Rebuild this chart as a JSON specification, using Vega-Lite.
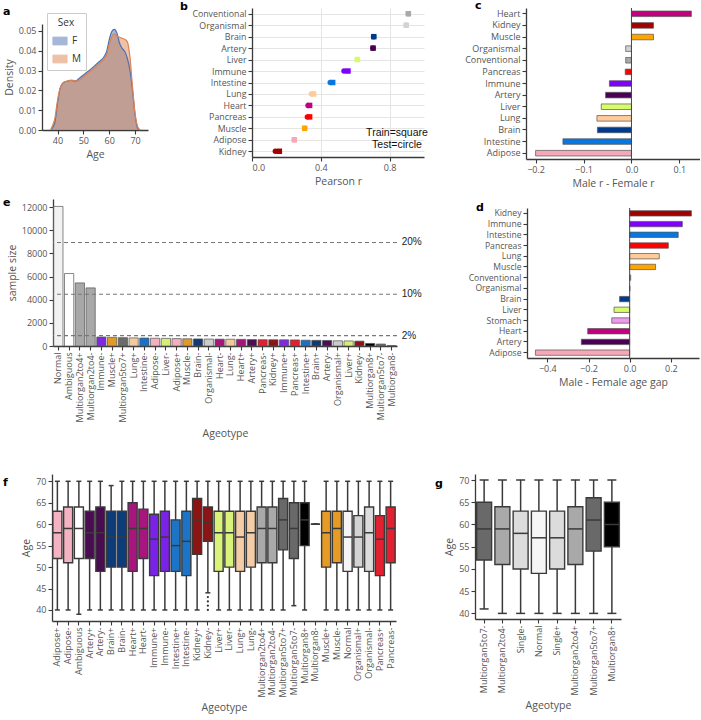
{
"$schema": "https://vega.github.io/schema/vega-lite/v6.json",
"padding": {"left": 3, "top": 0, "right": 0, "bottom": 0},
"config": {
  "font": "Open Sans",
  "view": {"stroke": null},
  "axis": {"labelFontSize": 9, "labelColor": "#555555", "titleFontSize": 10.5, "titleFontWeight": "normal", "titleColor": "#555555", "domainColor": "#3a3a3a", "tickColor": "#3a3a3a", "domainWidth": 1.3, "tickWidth": 1.1, "tickSize": 4, "grid": false, "labelPadding": 2, "titlePadding": 4, "labelOverlap": false},
  "title": {"anchor": "start", "frame": "group", "offset": 0, "fontSize": 11, "fontWeight": "bold", "color": "#000000", "font": "DejaVu Sans", "baseline": "alphabetic"}
},
"bounds": "flush",
"spacing": 0,
"resolve": {"scale": {"color": "independent", "shape": "independent"}},
"vconcat": [
 {
  "hconcat": [
   {
    "vconcat": [
     {"width": 1, "height": 16, "data": {"values": []}, "mark": "point", "encoding": {}},
     {
      "width": 106, "height": 106,
      "title": {"text": "a", "dx": -39, "dy": -3.5},
      "data": {"values": [
        {"age": 37.5, "sex": "F", "density": 0}, {"age": 38, "sex": "F", "density": 0.001}, {"age": 39, "sex": "F", "density": 0.004}, {"age": 40, "sex": "F", "density": 0.0135}, {"age": 41, "sex": "F", "density": 0.021}, {"age": 42, "sex": "F", "density": 0.0236}, {"age": 43, "sex": "F", "density": 0.0244}, {"age": 44, "sex": "F", "density": 0.0247}, {"age": 45, "sex": "F", "density": 0.025}, {"age": 46, "sex": "F", "density": 0.0249}, {"age": 47, "sex": "F", "density": 0.0247}, {"age": 48, "sex": "F", "density": 0.0256}, {"age": 50, "sex": "F", "density": 0.0278}, {"age": 52, "sex": "F", "density": 0.0298}, {"age": 54, "sex": "F", "density": 0.032}, {"age": 56, "sex": "F", "density": 0.0343}, {"age": 58, "sex": "F", "density": 0.037}, {"age": 59, "sex": "F", "density": 0.0396}, {"age": 60, "sex": "F", "density": 0.0455}, {"age": 61, "sex": "F", "density": 0.0497}, {"age": 62, "sex": "F", "density": 0.0508}, {"age": 63, "sex": "F", "density": 0.0488}, {"age": 64, "sex": "F", "density": 0.0438}, {"age": 65, "sex": "F", "density": 0.0412}, {"age": 66, "sex": "F", "density": 0.0396}, {"age": 67, "sex": "F", "density": 0.0362}, {"age": 68, "sex": "F", "density": 0.0303}, {"age": 69, "sex": "F", "density": 0.0202}, {"age": 70, "sex": "F", "density": 0.0076}, {"age": 71, "sex": "F", "density": 0.0008}, {"age": 72, "sex": "F", "density": 0},
        {"age": 37.3, "sex": "M", "density": 0}, {"age": 38, "sex": "M", "density": 0.002}, {"age": 39, "sex": "M", "density": 0.006}, {"age": 40, "sex": "M", "density": 0.015}, {"age": 41, "sex": "M", "density": 0.021}, {"age": 42, "sex": "M", "density": 0.0236}, {"age": 43, "sex": "M", "density": 0.0244}, {"age": 44, "sex": "M", "density": 0.0248}, {"age": 45, "sex": "M", "density": 0.025}, {"age": 46, "sex": "M", "density": 0.0251}, {"age": 47, "sex": "M", "density": 0.0248}, {"age": 48, "sex": "M", "density": 0.0247}, {"age": 50, "sex": "M", "density": 0.0269}, {"age": 52, "sex": "M", "density": 0.029}, {"age": 54, "sex": "M", "density": 0.0311}, {"age": 56, "sex": "M", "density": 0.0332}, {"age": 58, "sex": "M", "density": 0.0357}, {"age": 59, "sex": "M", "density": 0.0379}, {"age": 60, "sex": "M", "density": 0.043}, {"age": 61, "sex": "M", "density": 0.0471}, {"age": 62, "sex": "M", "density": 0.0485}, {"age": 63, "sex": "M", "density": 0.0475}, {"age": 64, "sex": "M", "density": 0.0468}, {"age": 65, "sex": "M", "density": 0.0463}, {"age": 66, "sex": "M", "density": 0.0458}, {"age": 67, "sex": "M", "density": 0.0445}, {"age": 68, "sex": "M", "density": 0.037}, {"age": 69, "sex": "M", "density": 0.022}, {"age": 70, "sex": "M", "density": 0.0084}, {"age": 71, "sex": "M", "density": 0.0017}, {"age": 72, "sex": "M", "density": 0}
      ]},
      "mark": {"type": "area", "fillOpacity": 0.5, "line": {"strokeWidth": 1.2}, "interpolate": "monotone"},
      "encoding": {
        "x": {"field": "age", "type": "quantitative", "scale": {"domain": [34, 75], "nice": false, "zero": false}, "axis": {"values": [40, 50, 60, 70], "title": "Age"}},
        "y": {"field": "density", "type": "quantitative", "stack": null, "scale": {"domain": [0, 0.0535], "nice": false}, "axis": {"values": [0, 0.01, 0.02, 0.03, 0.04, 0.05], "format": ".2f", "title": "Density", "labelOverlap": false}},
        "color": {"field": "sex", "type": "nominal", "scale": {"domain": ["F", "M"], "range": ["#4c72b0", "#dd8452"]}, "legend": {"orient": "top-left", "title": "Sex", "offset": 5, "fillColor": "#ffffff", "strokeColor": "#cccccc", "padding": 5, "titleAnchor": "middle", "titleFontSize": 10, "titleFontWeight": "normal", "labelFontSize": 10, "symbolType": "M-1,-0.55H1V0.55H-1Z", "symbolSize": 200, "symbolOpacity": 0.5, "symbolStrokeWidth": 1, "rowPadding": 4, "labelColor": "#333333", "titleColor": "#333333"}}
      }
     }
    ],
    "spacing": 0,
    "bounds": "flush"
   },
   {"width": 210, "height": 1, "data": {"values": []}, "mark": "point", "encoding": {}},
   {
    "width": 172, "height": 149,
    "title": {"text": "b", "dx": -72, "dy": 7.5},
    "layer": [
     {
      "data": {"values": [
        {"organ": "Conventional", "set": "Train", "r": 0.909}, {"organ": "Conventional", "set": "Test", "r": 0.909},
        {"organ": "Organismal", "set": "Train", "r": 0.897}, {"organ": "Organismal", "set": "Test", "r": 0.897},
        {"organ": "Brain", "set": "Train", "r": 0.708}, {"organ": "Brain", "set": "Test", "r": 0.707},
        {"organ": "Artery", "set": "Train", "r": 0.704}, {"organ": "Artery", "set": "Test", "r": 0.703},
        {"organ": "Liver", "set": "Train", "r": 0.613}, {"organ": "Liver", "set": "Test", "r": 0.612},
        {"organ": "Immune", "set": "Train", "r": 0.558}, {"organ": "Immune", "set": "Test", "r": 0.535},
        {"organ": "Intestine", "set": "Train", "r": 0.469}, {"organ": "Intestine", "set": "Test", "r": 0.455},
        {"organ": "Lung", "set": "Train", "r": 0.358}, {"organ": "Lung", "set": "Test", "r": 0.345},
        {"organ": "Heart", "set": "Train", "r": 0.335}, {"organ": "Heart", "set": "Test", "r": 0.326},
        {"organ": "Pancreas", "set": "Train", "r": 0.335}, {"organ": "Pancreas", "set": "Test", "r": 0.322},
        {"organ": "Muscle", "set": "Train", "r": 0.306}, {"organ": "Muscle", "set": "Test", "r": 0.306},
        {"organ": "Adipose", "set": "Train", "r": 0.246}, {"organ": "Adipose", "set": "Test", "r": 0.246},
        {"organ": "Kidney", "set": "Train", "r": 0.159}, {"organ": "Kidney", "set": "Test", "r": 0.136}
      ]},
      "mark": {"type": "point", "filled": true, "size": 30, "opacity": 1},
      "encoding": {
        "x": {"field": "r", "type": "quantitative", "scale": {"domain": [0, 1], "nice": false}, "axis": {"values": [0, 0.2, 0.4, 0.6, 0.8, 1], "format": ".1f", "title": "Pearson r", "grid": true, "gridColor": "#e5e5e5"}},
        "y": {"field": "organ", "type": "nominal", "scale": {"domain": ["Conventional", "Organismal", "Brain", "Artery", "Liver", "Immune", "Intestine", "Lung", "Heart", "Pancreas", "Muscle", "Adipose", "Kidney"]}, "axis": {"title": null, "grid": true, "gridColor": "#e5e5e5", "labelFontSize": 8.8}},
        "color": {"field": "organ", "type": "nominal", "scale": {"domain": ["Conventional", "Organismal", "Brain", "Artery", "Liver", "Immune", "Intestine", "Lung", "Heart", "Pancreas", "Muscle", "Adipose", "Kidney"], "range": ["#a9a9a9", "#d3d3d3", "#003a8c", "#4b0055", "#d7fb6a", "#7f00ff", "#0877e0", "#ffcc99", "#c2007f", "#ff0000", "#ffa500", "#f7a8b8", "#a30000"]}, "legend": null},
        "shape": {"field": "set", "type": "nominal", "scale": {"domain": ["Train", "Test"], "range": ["square", "circle"]}, "legend": null}
      }
     },
     {
      "data": {"values": [{"organ": "Muscle", "x": 0.843, "t": "Train=square"}, {"organ": "Adipose", "x": 0.843, "t": "Test=circle"}]},
      "mark": {"type": "text", "dy": 5, "fontSize": 10.5, "font": "Liberation Sans", "color": "#111111"},
      "encoding": {"x": {"field": "x", "type": "quantitative"}, "y": {"field": "organ", "type": "nominal"}, "text": {"field": "t"}}
     }
    ]
   },
   {"width": 102, "height": 1, "data": {"values": []}, "mark": "point", "encoding": {}},
   {
    "width": 174, "height": 151,
    "title": {"text": "c", "dx": -51, "dy": 7.5},
    "layer": [
     {
      "data": {"values": [
        {"organ": "Heart", "v": 0.125}, {"organ": "Kidney", "v": 0.046}, {"organ": "Muscle", "v": 0.046}, {"organ": "Organismal", "v": -0.012}, {"organ": "Conventional", "v": -0.012}, {"organ": "Pancreas", "v": -0.013}, {"organ": "Immune", "v": -0.046}, {"organ": "Artery", "v": -0.054}, {"organ": "Liver", "v": -0.063}, {"organ": "Lung", "v": -0.072}, {"organ": "Brain", "v": -0.071}, {"organ": "Intestine", "v": -0.143}, {"organ": "Adipose", "v": -0.2}
      ]},
      "mark": {"type": "bar", "stroke": "#555555", "strokeWidth": 0.7},
      "encoding": {
        "y": {"field": "organ", "type": "nominal", "sort": null, "scale": {"paddingInner": 0.52, "paddingOuter": 0.26}, "axis": {"title": null}},
        "x": {"field": "v", "type": "quantitative", "scale": {"domain": [-0.22, 0.143], "nice": false, "zero": false}, "axis": {"values": [-0.2, -0.1, 0, 0.1], "format": ".1f", "title": "Male r - Female r"}},
        "color": {"field": "organ", "type": "nominal", "scale": {"domain": ["Heart", "Kidney", "Muscle", "Organismal", "Conventional", "Pancreas", "Immune", "Artery", "Liver", "Lung", "Brain", "Intestine", "Adipose"], "range": ["#c2007f", "#a30000", "#ffa500", "#d3d3d3", "#a9a9a9", "#ff0000", "#7f00ff", "#4b0055", "#d7fb6a", "#ffcc99", "#003a8c", "#0877e0", "#f7a8b8"]}, "legend": null}
      }
     },
     {"data": {"values": [{"z": 0}]}, "mark": {"type": "rule", "color": "#444444", "strokeWidth": 1}, "encoding": {"x": {"field": "z", "type": "quantitative"}}}
    ]
   }
  ],
  "spacing": 0,
  "bounds": "flush",
  "resolve": {"scale": {"color": "independent", "shape": "independent"}}
 },
 {"width": 1, "height": 191, "data": {"values": []}, "mark": "point", "encoding": {}},
 {
  "hconcat": [
   {"width": 11, "height": 1, "data": {"values": []}, "mark": "point", "encoding": {}},
   {
    "width": 344, "height": 147,
    "title": {"text": "e", "dx": -50, "dy": 12.5},
    "layer": [
     {
      "data": {"values": [
        {"ageotype": "Normal", "organ": "Normal", "n": 12060}, {"ageotype": "Ambiguous", "organ": "Ambiguous", "n": 6260}, {"ageotype": "Multiorgan2to4+", "organ": "Multiorgan2to4", "n": 5450}, {"ageotype": "Multiorgan2to4-", "organ": "Multiorgan2to4", "n": 5020},
        {"ageotype": "Immune-", "organ": "Immune", "n": 780}, {"ageotype": "Muscle+", "organ": "Muscle", "n": 750}, {"ageotype": "Multiorgan5to7+", "organ": "Multiorgan5to7", "n": 720}, {"ageotype": "Lung+", "organ": "Lung", "n": 700}, {"ageotype": "Intestine-", "organ": "Intestine", "n": 690}, {"ageotype": "Adipose-", "organ": "Adipose", "n": 670}, {"ageotype": "Liver-", "organ": "Liver", "n": 660}, {"ageotype": "Adipose+", "organ": "Adipose", "n": 640}, {"ageotype": "Muscle-", "organ": "Muscle", "n": 625}, {"ageotype": "Brain-", "organ": "Brain", "n": 610}, {"ageotype": "Organismal-", "organ": "Organismal", "n": 600}, {"ageotype": "Heart-", "organ": "Heart", "n": 590}, {"ageotype": "Lung-", "organ": "Lung", "n": 585}, {"ageotype": "Heart+", "organ": "Heart", "n": 575}, {"ageotype": "Artery+", "organ": "Artery", "n": 555}, {"ageotype": "Pancreas-", "organ": "Pancreas", "n": 545}, {"ageotype": "Kidney+", "organ": "Kidney", "n": 540}, {"ageotype": "Immune+", "organ": "Immune", "n": 535}, {"ageotype": "Pancreas+", "organ": "Pancreas", "n": 525}, {"ageotype": "Intestine+", "organ": "Intestine", "n": 500}, {"ageotype": "Brain+", "organ": "Brain", "n": 490}, {"ageotype": "Artery-", "organ": "Artery", "n": 480}, {"ageotype": "Organismal+", "organ": "Organismal", "n": 450}, {"ageotype": "Liver+", "organ": "Liver", "n": 440}, {"ageotype": "Kidney-", "organ": "Kidney", "n": 420}, {"ageotype": "Multiorgan8+", "organ": "Multiorgan8", "n": 220}, {"ageotype": "Multiorgan5to7-", "organ": "Multiorgan5to7", "n": 170}, {"ageotype": "Multiorgan8-", "organ": "Multiorgan8", "n": 25}
      ]},
      "mark": {"type": "bar", "stroke": "#555555", "strokeWidth": 0.7},
      "encoding": {
        "x": {"field": "ageotype", "type": "nominal", "scale": {"domain": ["Normal", "Ambiguous", "Multiorgan2to4+", "Multiorgan2to4-", "Immune-", "Muscle+", "Multiorgan5to7+", "Lung+", "Intestine-", "Adipose-", "Liver-", "Adipose+", "Muscle-", "Brain-", "Organismal-", "Heart-", "Lung-", "Heart+", "Artery+", "Pancreas-", "Kidney+", "Immune+", "Pancreas+", "Intestine+", "Brain+", "Artery-", "Organismal+", "Liver+", "Kidney-", "Multiorgan8+", "Multiorgan5to7-", "Multiorgan8-"], "paddingInner": 0.14, "paddingOuter": 0.07}, "axis": {"labelAngle": 270, "labelFontSize": 9, "title": "Ageotype", "titlePadding": 7}},
        "y": {"field": "n", "type": "quantitative", "title": "sample size", "scale": {"domain": [0, 12700], "nice": false}, "axis": {"values": [0, 2000, 4000, 6000, 8000, 10000, 12000], "format": "d", "title": "sample size", "labelOverlap": false}},
        "color": {"field": "organ", "type": "nominal", "scale": {"domain": ["Normal", "Ambiguous", "Multiorgan2to4", "Multiorgan5to7", "Multiorgan8", "Immune", "Muscle", "Lung", "Intestine", "Adipose", "Liver", "Brain", "Organismal", "Heart", "Artery", "Pancreas", "Kidney"], "range": ["#f2f2f2", "#ffffff", "#a8a8a8", "#6b6b6b", "#000000", "#7e2be0", "#e09a28", "#f2c9a0", "#1b72c4", "#f2b0c0", "#d6ee78", "#123a73", "#cccccc", "#a8157a", "#4b0f52", "#e02030", "#8c1515"]}, "legend": null}
      }
     },
     {
      "data": {"values": [{"v": 8946, "lab": "20%", "at": "Multiorgan8-"}, {"v": 4473, "lab": "10%", "at": "Multiorgan8-"}, {"v": 895, "lab": "2%", "at": "Multiorgan8-"}]},
      "layer": [
       {"mark": {"type": "rule", "strokeDash": [4, 3], "color": "#777777", "strokeWidth": 1.1}, "encoding": {"y": {"field": "v", "type": "quantitative", "title": "sample size", "axis": {"values": [0, 2000, 4000, 6000, 8000, 10000, 12000], "format": "d", "title": "sample size", "labelOverlap": false}}}},
       {"mark": {"type": "text", "align": "left", "dx": 10, "fontSize": 10, "font": "Liberation Sans", "color": "#222222"}, "encoding": {"x": {"field": "at", "type": "nominal"}, "y": {"field": "v", "type": "quantitative", "title": "sample size", "axis": {"values": [0, 2000, 4000, 6000, 8000, 10000, 12000], "format": "d", "title": "sample size", "labelOverlap": false}}, "text": {"field": "lab"}}}
      ]
     }
    ]
   },
   {"width": 130, "height": 1, "data": {"values": []}, "mark": "point", "encoding": {}},
   {
    "vconcat": [
     {"width": 1, "height": 9, "data": {"values": []}, "mark": "point", "encoding": {}},
     {
      "width": 172, "height": 150,
      "title": {"text": "d", "dx": -51, "dy": 9.5},
      "layer": [
       {
        "data": {"values": [
          {"organ": "Kidney", "v": 0.30}, {"organ": "Immune", "v": 0.256}, {"organ": "Intestine", "v": 0.236}, {"organ": "Pancreas", "v": 0.188}, {"organ": "Lung", "v": 0.144}, {"organ": "Muscle", "v": 0.126}, {"organ": "Conventional", "v": 0.005}, {"organ": "Organismal", "v": 0.001}, {"organ": "Brain", "v": -0.049}, {"organ": "Liver", "v": -0.076}, {"organ": "Stomach", "v": -0.087}, {"organ": "Heart", "v": -0.204}, {"organ": "Artery", "v": -0.235}, {"organ": "Adipose", "v": -0.458}
        ]},
        "mark": {"type": "bar", "stroke": "#555555", "strokeWidth": 0.7},
        "encoding": {
          "y": {"field": "organ", "type": "nominal", "sort": null, "scale": {"paddingInner": 0.5, "paddingOuter": 0.25}, "axis": {"title": null, "labelFontSize": 8.6}},
          "x": {"field": "v", "type": "quantitative", "scale": {"domain": [-0.499, 0.337], "nice": false, "zero": false}, "axis": {"values": [-0.4, -0.2, 0, 0.2], "format": ".1f", "title": "Male - Female age gap"}},
          "color": {"field": "organ", "type": "nominal", "scale": {"domain": ["Kidney", "Immune", "Intestine", "Pancreas", "Lung", "Muscle", "Conventional", "Organismal", "Brain", "Liver", "Stomach", "Heart", "Artery", "Adipose"], "range": ["#a30000", "#7f00ff", "#0877e0", "#ff0000", "#ffcc99", "#ffa500", "#a9a9a9", "#d3d3d3", "#003a8c", "#d7fb6a", "#ee99ee", "#c2007f", "#4b0055", "#f7a8b8"]}, "legend": null}
        }
       },
       {"data": {"values": [{"z": 0}]}, "mark": {"type": "rule", "color": "#444444", "strokeWidth": 1}, "encoding": {"x": {"field": "z", "type": "quantitative"}}}
      ]
     }
    ],
    "spacing": 0,
    "bounds": "flush"
   }
  ],
  "spacing": 0,
  "bounds": "flush",
  "resolve": {"scale": {"color": "independent", "shape": "independent"}}
 },
 {"width": 1, "height": 275, "data": {"values": []}, "mark": "point", "encoding": {}},
 {
  "hconcat": [
   {"width": 10, "height": 1, "data": {"values": []}, "mark": "point", "encoding": {}},
   {
    "width": 344, "height": 147,
    "title": {"text": "f", "dx": -49, "dy": 17.5},
    "layer": [
     {
      "data": {"values": [
        {"ageotype": "Adipose+", "organ": "Adipose", "lo": 40, "q1": 52, "med": 58, "q3": 63, "hi": 70},
        {"ageotype": "Adipose-", "organ": "Adipose", "lo": 40, "q1": 51, "med": 59, "q3": 64, "hi": 70},
        {"ageotype": "Ambiguous", "organ": "Ambiguous", "lo": 39, "q1": 52, "med": 59, "q3": 64, "hi": 70},
        {"ageotype": "Artery+", "organ": "Artery", "lo": 40, "q1": 52, "med": 58, "q3": 63, "hi": 70},
        {"ageotype": "Artery-", "organ": "Artery", "lo": 40, "q1": 49, "med": 58, "q3": 64, "hi": 70},
        {"ageotype": "Brain+", "organ": "Brain", "lo": 40, "q1": 50, "med": 57, "q3": 63, "hi": 69},
        {"ageotype": "Brain-", "organ": "Brain", "lo": 40, "q1": 50, "med": 57, "q3": 63, "hi": 70},
        {"ageotype": "Heart+", "organ": "Heart", "lo": 40, "q1": 49, "med": 59, "q3": 65, "hi": 70},
        {"ageotype": "Heart-", "organ": "Heart", "lo": 40, "q1": 52, "med": 59, "q3": 63.5, "hi": 70},
        {"ageotype": "Immune+", "organ": "Immune", "lo": 40, "q1": 48, "med": 56.5, "q3": 62.3, "hi": 70},
        {"ageotype": "Immune-", "organ": "Immune", "lo": 40, "q1": 49, "med": 57, "q3": 63, "hi": 70},
        {"ageotype": "Intestine+", "organ": "Intestine", "lo": 40, "q1": 49, "med": 55, "q3": 61, "hi": 70},
        {"ageotype": "Intestine-", "organ": "Intestine", "lo": 40, "q1": 48, "med": 56, "q3": 63, "hi": 70},
        {"ageotype": "Kidney+", "organ": "Kidney", "lo": 40, "q1": 53, "med": 61, "q3": 66, "hi": 70},
        {"ageotype": "Kidney-", "organ": "Kidney", "lo": 44, "q1": 56, "med": 60.5, "q3": 64, "hi": 70},
        {"ageotype": "Liver+", "organ": "Liver", "lo": 40, "q1": 49, "med": 58, "q3": 63, "hi": 70},
        {"ageotype": "Liver-", "organ": "Liver", "lo": 40, "q1": 50, "med": 58, "q3": 63, "hi": 70},
        {"ageotype": "Lung+", "organ": "Lung", "lo": 40, "q1": 49, "med": 57, "q3": 63, "hi": 70},
        {"ageotype": "Lung-", "organ": "Lung", "lo": 40, "q1": 50, "med": 58, "q3": 63, "hi": 70},
        {"ageotype": "Multiorgan2to4+", "organ": "Multiorgan2to4", "lo": 40, "q1": 51, "med": 59, "q3": 64, "hi": 70},
        {"ageotype": "Multiorgan2to4-", "organ": "Multiorgan2to4", "lo": 40, "q1": 51, "med": 59, "q3": 64, "hi": 70},
        {"ageotype": "Multiorgan5to7+", "organ": "Multiorgan5to7", "lo": 40, "q1": 54, "med": 61, "q3": 66, "hi": 70},
        {"ageotype": "Multiorgan5to7-", "organ": "Multiorgan5to7", "lo": 41, "q1": 52, "med": 59, "q3": 65, "hi": 70},
        {"ageotype": "Multiorgan8+", "organ": "Multiorgan8", "lo": 40, "q1": 55, "med": 61, "q3": 65, "hi": 70},
        {"ageotype": "Multiorgan8-", "organ": "Multiorgan8", "lo": 60, "q1": 60, "med": 60, "q3": 60, "hi": 60},
        {"ageotype": "Muscle+", "organ": "Muscle", "lo": 40, "q1": 50, "med": 58, "q3": 63, "hi": 70},
        {"ageotype": "Muscle-", "organ": "Muscle", "lo": 40, "q1": 51, "med": 59, "q3": 63, "hi": 70},
        {"ageotype": "Normal", "organ": "Normal", "lo": 40, "q1": 49, "med": 57, "q3": 63, "hi": 70},
        {"ageotype": "Organismal+", "organ": "Organismal+", "lo": 40, "q1": 50, "med": 57, "q3": 62, "hi": 70},
        {"ageotype": "Organismal-", "organ": "Organismal-", "lo": 40, "q1": 49, "med": 58, "q3": 64, "hi": 70},
        {"ageotype": "Pancreas+", "organ": "Pancreas", "lo": 40, "q1": 48, "med": 56.5, "q3": 62, "hi": 70},
        {"ageotype": "Pancreas-", "organ": "Pancreas", "lo": 40, "q1": 51, "med": 59, "q3": 64, "hi": 70}
      ]},
      "encoding": {"x": {"field": "ageotype", "type": "nominal", "scale": {"domain": ["Adipose+", "Adipose-", "Ambiguous", "Artery+", "Artery-", "Brain+", "Brain-", "Heart+", "Heart-", "Immune+", "Immune-", "Intestine+", "Intestine-", "Kidney+", "Kidney-", "Liver+", "Liver-", "Lung+", "Lung-", "Multiorgan2to4+", "Multiorgan2to4-", "Multiorgan5to7+", "Multiorgan5to7-", "Multiorgan8+", "Multiorgan8-", "Muscle+", "Muscle-", "Normal", "Organismal+", "Organismal-", "Pancreas+", "Pancreas-"], "paddingInner": 0.16, "paddingOuter": 0.08}, "axis": {"labelAngle": 270, "labelFontSize": 9, "title": "Ageotype", "titlePadding": 6}}},
      "layer": [
       {"mark": {"type": "rule", "color": "#3a3a3a", "strokeWidth": 1.5}, "encoding": {"y": {"field": "lo", "type": "quantitative", "title": "Age", "scale": {"domain": [37.43, 71.7], "nice": false, "zero": false}, "axis": {"values": [40, 45, 50, 55, 60, 65, 70], "title": "Age", "labelOverlap": false}}, "y2": {"field": "hi"}}},
       {"mark": {"type": "bar", "stroke": "#3a3a3a", "strokeWidth": 1.4}, "encoding": {"y": {"field": "q1", "type": "quantitative", "title": "Age", "axis": {"values": [40, 45, 50, 55, 60, 65, 70], "title": "Age", "labelOverlap": false}}, "y2": {"field": "q3"}, "color": {"field": "organ", "type": "nominal", "scale": {"domain": ["Adipose", "Ambiguous", "Artery", "Brain", "Heart", "Immune", "Intestine", "Kidney", "Liver", "Lung", "Multiorgan2to4", "Multiorgan5to7", "Multiorgan8", "Muscle", "Normal", "Organismal+", "Organismal-", "Pancreas"], "range": ["#f4b2c2", "#ffffff", "#4a0b50", "#0d3c7a", "#a8157e", "#7a22e8", "#1c74c9", "#8b1414", "#d8f27a", "#f4cda6", "#a9a9a9", "#696969", "#000000", "#e59b25", "#f5f5f5", "#d3d3d3", "#dcdcdc", "#e3202f"]}, "legend": null}}},
       {"mark": {"type": "tick", "color": "#3a3a3a", "thickness": 1.5, "size": 9, "orient": "horizontal", "opacity": 1}, "encoding": {"y": {"field": "med", "type": "quantitative", "title": "Age", "axis": {"values": [40, 45, 50, 55, 60, 65, 70], "title": "Age", "labelOverlap": false}}}},
       {"mark": {"type": "tick", "color": "#3a3a3a", "thickness": 1.5, "size": 5, "orient": "horizontal", "opacity": 1}, "encoding": {"y": {"field": "lo", "type": "quantitative", "title": "Age", "axis": {"values": [40, 45, 50, 55, 60, 65, 70], "title": "Age", "labelOverlap": false}}}},
       {"mark": {"type": "tick", "color": "#3a3a3a", "thickness": 1.5, "size": 5, "orient": "horizontal", "opacity": 1}, "encoding": {"y": {"field": "hi", "type": "quantitative", "title": "Age", "axis": {"values": [40, 45, 50, 55, 60, 65, 70], "title": "Age", "labelOverlap": false}}}}
      ]
     },
     {
      "data": {"values": [{"ageotype": "Kidney-", "age": 40}, {"ageotype": "Kidney-", "age": 41}, {"ageotype": "Kidney-", "age": 42}, {"ageotype": "Kidney-", "age": 43}]},
      "mark": {"type": "circle", "size": 5, "color": "#333333", "opacity": 1},
      "encoding": {"x": {"field": "ageotype", "type": "nominal"}, "y": {"field": "age", "type": "quantitative", "title": "Age", "axis": {"values": [40, 45, 50, 55, 60, 65, 70], "title": "Age", "labelOverlap": false}}}
     }
    ]
   },
   {"width": 79, "height": 1, "data": {"values": []}, "mark": "point", "encoding": {}},
   {
    "width": 146, "height": 145,
    "title": {"text": "g", "dx": -40, "dy": 18.5},
    "data": {"values": [
      {"ageotype": "Multiorgan5to7-", "organ": "Multiorgan5to7", "lo": 41, "q1": 52, "med": 59, "q3": 65, "hi": 70},
      {"ageotype": "Multiorgan2to4-", "organ": "Multiorgan2to4", "lo": 40, "q1": 51, "med": 59, "q3": 64, "hi": 70},
      {"ageotype": "Single-", "organ": "Single", "lo": 40, "q1": 50, "med": 58, "q3": 63, "hi": 70},
      {"ageotype": "Normal", "organ": "Normal", "lo": 40, "q1": 49, "med": 57, "q3": 63, "hi": 70},
      {"ageotype": "Single+", "organ": "Single", "lo": 40, "q1": 50, "med": 57, "q3": 63, "hi": 70},
      {"ageotype": "Multiorgan2to4+", "organ": "Multiorgan2to4", "lo": 40, "q1": 51, "med": 59, "q3": 64, "hi": 70},
      {"ageotype": "Multiorgan5to7+", "organ": "Multiorgan5to7", "lo": 40, "q1": 54, "med": 61, "q3": 66, "hi": 70},
      {"ageotype": "Multiorgan8+", "organ": "Multiorgan8", "lo": 40, "q1": 55, "med": 60, "q3": 65, "hi": 70}
    ]},
    "encoding": {"x": {"field": "ageotype", "type": "nominal", "scale": {"domain": ["Multiorgan5to7-", "Multiorgan2to4-", "Single-", "Normal", "Single+", "Multiorgan2to4+", "Multiorgan5to7+", "Multiorgan8+"], "paddingInner": 0.18, "paddingOuter": 0.09}, "axis": {"labelAngle": 270, "title": "Ageotype", "titlePadding": 6}}},
    "layer": [
     {"mark": {"type": "rule", "color": "#3a3a3a", "strokeWidth": 1.5}, "encoding": {"y": {"field": "lo", "type": "quantitative", "title": "Age", "scale": {"domain": [38.74, 71.35], "nice": false, "zero": false}, "axis": {"values": [40, 45, 50, 55, 60, 65, 70], "title": "Age", "labelOverlap": false}}, "y2": {"field": "hi"}}},
     {"mark": {"type": "bar", "stroke": "#3a3a3a", "strokeWidth": 1.4}, "encoding": {"y": {"field": "q1", "type": "quantitative", "title": "Age", "axis": {"values": [40, 45, 50, 55, 60, 65, 70], "title": "Age", "labelOverlap": false}}, "y2": {"field": "q3"}, "color": {"field": "organ", "type": "nominal", "scale": {"domain": ["Multiorgan5to7", "Multiorgan2to4", "Single", "Normal", "Multiorgan8"], "range": ["#696969", "#a9a9a9", "#dcdcdc", "#f5f5f5", "#000000"]}, "legend": null}}},
     {"mark": {"type": "tick", "color": "#3a3a3a", "thickness": 1.5, "size": 15, "orient": "horizontal", "opacity": 1}, "encoding": {"y": {"field": "med", "type": "quantitative", "title": "Age", "axis": {"values": [40, 45, 50, 55, 60, 65, 70], "title": "Age", "labelOverlap": false}}}},
     {"mark": {"type": "tick", "color": "#3a3a3a", "thickness": 1.5, "size": 9, "orient": "horizontal", "opacity": 1}, "encoding": {"y": {"field": "lo", "type": "quantitative", "title": "Age", "axis": {"values": [40, 45, 50, 55, 60, 65, 70], "title": "Age", "labelOverlap": false}}}},
     {"mark": {"type": "tick", "color": "#3a3a3a", "thickness": 1.5, "size": 9, "orient": "horizontal", "opacity": 1}, "encoding": {"y": {"field": "hi", "type": "quantitative", "title": "Age", "axis": {"values": [40, 45, 50, 55, 60, 65, 70], "title": "Age", "labelOverlap": false}}}}
    ]
   }
  ],
  "spacing": 0,
  "bounds": "flush",
  "resolve": {"scale": {"color": "independent", "shape": "independent"}}
 }
]
}
